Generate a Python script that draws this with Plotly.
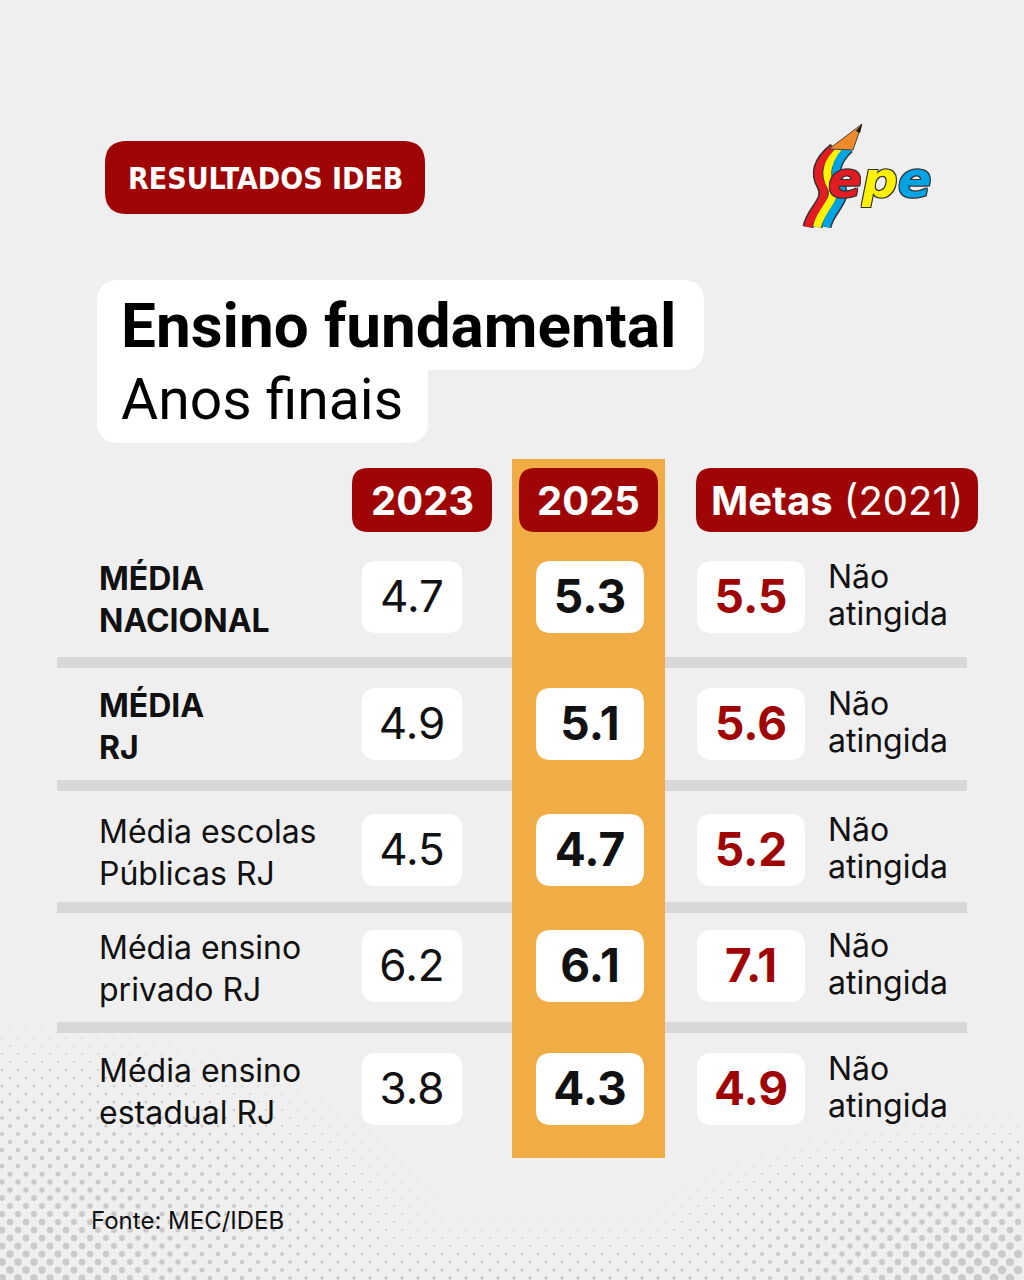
import plotly.graph_objects as go

row_labels = ["MÉDIA<br>NACIONAL", "MÉDIA<br>RJ", "Média escolas<br>Públicas RJ",
              "Média ensino<br>privado RJ", "Média ensino<br>estadual RJ"]
row_bold = [True, True, False, False, False]
ideb_2023 = [4.7, 4.9, 4.5, 6.2, 3.8]
ideb_2025 = [5.3, 5.1, 4.7, 6.1, 4.3]
metas_2021 = [5.5, 5.6, 5.2, 7.1, 4.9]
status = ["Não atingida"] * 5
col_headers = ["<b>2023</b>", "<b>2025</b>", "<b>Metas</b> (2021)"]

# ---- layout (pixel positions of the design) ----
W, H = 1024, 1280
BG = "#efefef"
RED = "#9f0505"
ORANGE = "#f0ad45"
GREY_BAR = "#d8d8d8"
FONT = "Inter"

row_y = [597, 724, 850, 966, 1089]
col_x = [412, 590, 751]
box_w = [101, 108, 108]
box_h = 72
sep_y = [662, 785, 907, 1027]


def rrect(x0, y0, x1, y1, r):
    return (f"M {x0+r},{y0} L {x1-r},{y0} Q {x1},{y0} {x1},{y0+r} "
            f"L {x1},{y1-r} Q {x1},{y1} {x1-r},{y1} L {x0+r},{y1} "
            f"Q {x0},{y1} {x0},{y1-r} L {x0},{y0+r} Q {x0},{y0} {x0+r},{y0} Z")


def box(x0, y0, x1, y1, r, color):
    return dict(type="path", path=rrect(x0, y0, x1, y1, r), fillcolor=color,
                line=dict(width=0), layer="below")


shapes = []
# badge top left
shapes.append(box(105, 141, 425, 214, 22, RED))
# title blocks
shapes.append(box(97, 280, 704, 370, 22, "white"))
shapes.append(box(97, 330, 428, 443, 22, "white"))
# grey separators
for y in sep_y:
    shapes.append(dict(type="rect", x0=57, x1=967, y0=y - 5, y1=y + 6,
                       fillcolor=GREY_BAR, line=dict(width=0), layer="below"))
# highlighted 2025 column
shapes.append(dict(type="rect", x0=512, x1=665, y0=459, y1=1158,
                   fillcolor=ORANGE, line=dict(width=0), layer="below"))
# column header boxes
shapes.append(box(352, 468, 492, 532, 16, RED))
shapes.append(box(519, 468, 658, 532, 16, RED))
shapes.append(box(696, 468, 978, 532, 16, RED))
# value boxes
for y in row_y:
    for cx, bw in zip(col_x, box_w):
        shapes.append(box(cx - bw / 2, y - box_h / 2, cx + bw / 2, y + box_h / 2, 15, "white"))

# logo: three strips + pencil tip
strip_paths = [
    ("#e31b23", "M 808,227 C 811,210 830,200 822,186 C 814,172 819,160 834,148"),
    ("#fff200", "M 817,227 C 820,210 839,200 831,186 C 823,172 828,160 842,148"),
    ("#00a4e4", "M 826,227 C 829,210 848,200 840,186 C 832,172 836,160 849,148"),
]
for color, p in strip_paths:
    shapes.append(dict(type="path", path=p, line=dict(color="#333", width=11), layer="below"))
for color, p in strip_paths:
    shapes.append(dict(type="path", path=p, line=dict(color=color, width=8), layer="below"))
shapes.append(dict(type="path", path="M 829,149 L 853,150 L 862,124 Z",
                   fillcolor="#ee8a2a", line=dict(color="#444", width=1), layer="below"))
shapes.append(dict(type="path", path="M 856,131 L 860,133 L 862,124 Z",
                   fillcolor="#111", line=dict(width=0), layer="below"))

fig = go.Figure()

# halftone texture in the bottom corners (decoration, staggered grid)
dot_x, dot_y, dot_s = [], [], []
for i, gy in enumerate(range(1278, 960, -8)):
    off = 0 if i % 2 == 0 else 8
    for gx in range(off + 2, 1024, 16):
        dl = ((gx / 1.8) ** 2 + (1280 - gy) ** 2) ** 0.5
        dr = (((1024 - gx) / 2.5) ** 2 + (1280 - gy) ** 2) ** 0.5
        s = 0
        if dl < 300:
            s = max(s, 8 * (1 - dl / 300))
        if dr < 190:
            s = max(s, 9 * (1 - dr / 190))
        if gy > 1190:
            s = max(s, 3.5 * (1 - (1280 - gy) / 90))
        if 505 < gx < 672 and gy < 1165:
            continue
        if s >= 1.2:
            dot_x.append(gx)
            dot_y.append(gy)
            dot_s.append(s)
fig.add_trace(go.Scatter(x=dot_x, y=dot_y, mode="markers", hoverinfo="skip",
                         marker=dict(size=dot_s, color="#bababa", line=dict(width=0))))

# value columns
fig.add_trace(go.Scatter(x=[col_x[0]] * len(ideb_2023), y=[y + 4 for y in row_y], mode="text",
                         text=[f"{v:.1f}" for v in ideb_2023],
                         textfont=dict(family=FONT, size=44, color="#111")))
fig.add_trace(go.Scatter(x=[col_x[1]] * len(ideb_2025), y=[y + 4 for y in row_y], mode="text",
                         text=[f"<b>{v:.1f}</b>" for v in ideb_2025],
                         textfont=dict(family=FONT, size=46, color="#111")))
fig.add_trace(go.Scatter(x=[col_x[2]] * len(metas_2021), y=[y + 4 for y in row_y], mode="text",
                         text=[f"<b>{v:.1f}</b>" for v in metas_2021],
                         textfont=dict(family=FONT, size=46, color=RED)))
# status text, one word per line
fig.add_trace(go.Scatter(x=[828] * len(status), y=[y - 17 for y in row_y], mode="text",
                         text=[s.split(" ")[0] for s in status], textposition="middle right",
                         textfont=dict(family=FONT, size=32, color="#111")))
fig.add_trace(go.Scatter(x=[828] * len(status), y=[y + 20 for y in row_y], mode="text",
                         text=[s.split(" ")[1] for s in status], textposition="middle right",
                         textfont=dict(family=FONT, size=32, color="#111")))
fig.add_trace(go.Scatter(x=[99] * len(row_labels), y=[y + 6 for y in row_y], mode="text",
                         text=[f"<b>{t}</b>" if b else t for t, b in zip(row_labels, row_bold)],
                         textposition="middle right",
                         textfont=dict(family=FONT, size=32, color="#111")))

annotations = [
    dict(x=265, y=178, text="<b>RESULTADOS IDEB</b>",
         font=dict(family="DejaVu Sans Condensed, Liberation Sans Narrow, Roboto", size=30, color="white")),
    dict(x=119, y=325, text="<b>Ensino fundamental</b>", xanchor="left",
         font=dict(family="Roboto", size=62, color="#000")),
    dict(x=119, y=399, text="Anos finais", xanchor="left",
         font=dict(family="Roboto", size=57, color="#000")),
    dict(x=422, y=500, text=col_headers[0], font=dict(family=FONT, size=40, color="white")),
    dict(x=588, y=500, text=col_headers[1], font=dict(family=FONT, size=40, color="white")),
    dict(x=837, y=500, text=col_headers[2], font=dict(family=FONT, size=40, color="white")),
    dict(x=89, y=1220, text="Fonte: MEC/IDEB", xanchor="left",
         font=dict(family=FONT, size=24, color="#111")),
]
# logo letters as one text
outline = "-1px -1px 0 #333, 1px -1px 0 #333, -1px 1px 0 #333, 1px 1px 0 #333"
annotations.append(dict(x=880, y=180,
                        text=("<span style='color:#e31b23'>e</span>"
                              "<span style='color:#fff200'>p</span>"
                              "<span style='color:#00a4e4'>e</span>"),
                        font=dict(family="DejaVu Sans", size=50, style="italic",
                                  weight="bold", shadow=outline)))
for a in annotations:
    a.update(xref="x", yref="y", showarrow=False)
    a.setdefault("xanchor", "center")
    a.setdefault("yanchor", "middle")

fig.update_layout(
    width=W, height=H,
    margin=dict(l=0, r=0, t=0, b=0),
    paper_bgcolor=BG, plot_bgcolor=BG,
    showlegend=False,
    shapes=shapes,
    annotations=annotations,
    xaxis=dict(range=[0, W], visible=False, fixedrange=True),
    yaxis=dict(range=[H, 0], visible=False, fixedrange=True),
)

fig.write_html("out.html", config={"displayModeBar": False},
               post_script="document.body.style.margin='0';document.body.style.background='#efefef';")
